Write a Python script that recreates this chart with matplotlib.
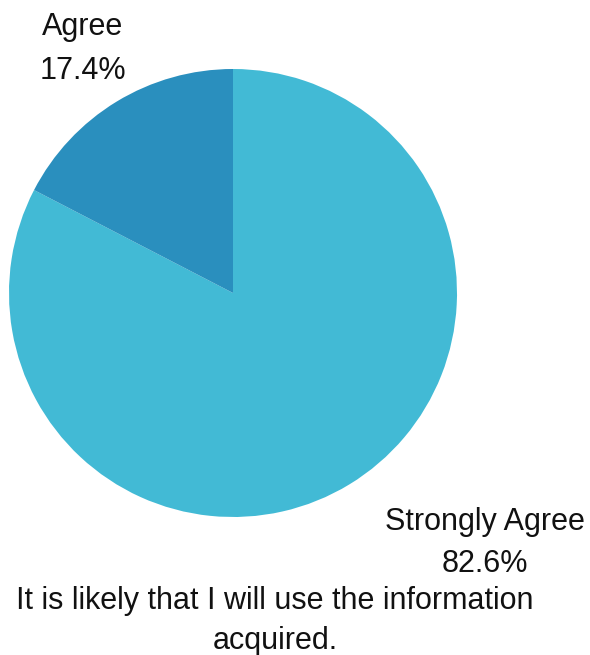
import matplotlib.pyplot as plt

labels = ["Strongly Agree", "Agree"]
shares = [82.6, 17.4]
colors = ["#42BAD5", "#2A8FBE"]
title = "It is likely that I will use the information\nacquired."

W, H = 590, 655


def px_box(cx, cy, r):
    # axes rectangle (figure fraction) for a pie centred at pixel (cx, cy)
    return [(cx - r) / W, (H - cy - r) / H, 2 * r / W, 2 * r / H]


def main():
    plt.rcParams["font.family"] = ["Liberation Sans", "DejaVu Sans"]
    fig = plt.figure(figsize=(W / 100, H / 100), dpi=100)
    ax = fig.add_axes(px_box(233, 293, 224))
    ax.pie(shares, colors=colors, startangle=90, counterclock=False,
           wedgeprops=dict(linewidth=0))
    ax.set_xlim(-1, 1)
    ax.set_ylim(-1, 1)
    ax.axis("off")

    label_pos = {"Agree": (83, 49, 1.62), "Strongly Agree": (485, 543, 1.55)}
    for name, val in zip(labels, shares):
        x, y, ls = label_pos[name]
        fig.text(x / W, 1 - y / H, f"{name}\n{val:.1f}%", ha="center",
                 va="center", fontsize=22, linespacing=ls, color="#111111")

    fig.text(275 / W, 1 - 621 / H, title, ha="center", va="center",
             fontsize=22, linespacing=1.42, color="#111111")

    fig.savefig("out.png", dpi=100)


if __name__ == '__main__':
    main()
